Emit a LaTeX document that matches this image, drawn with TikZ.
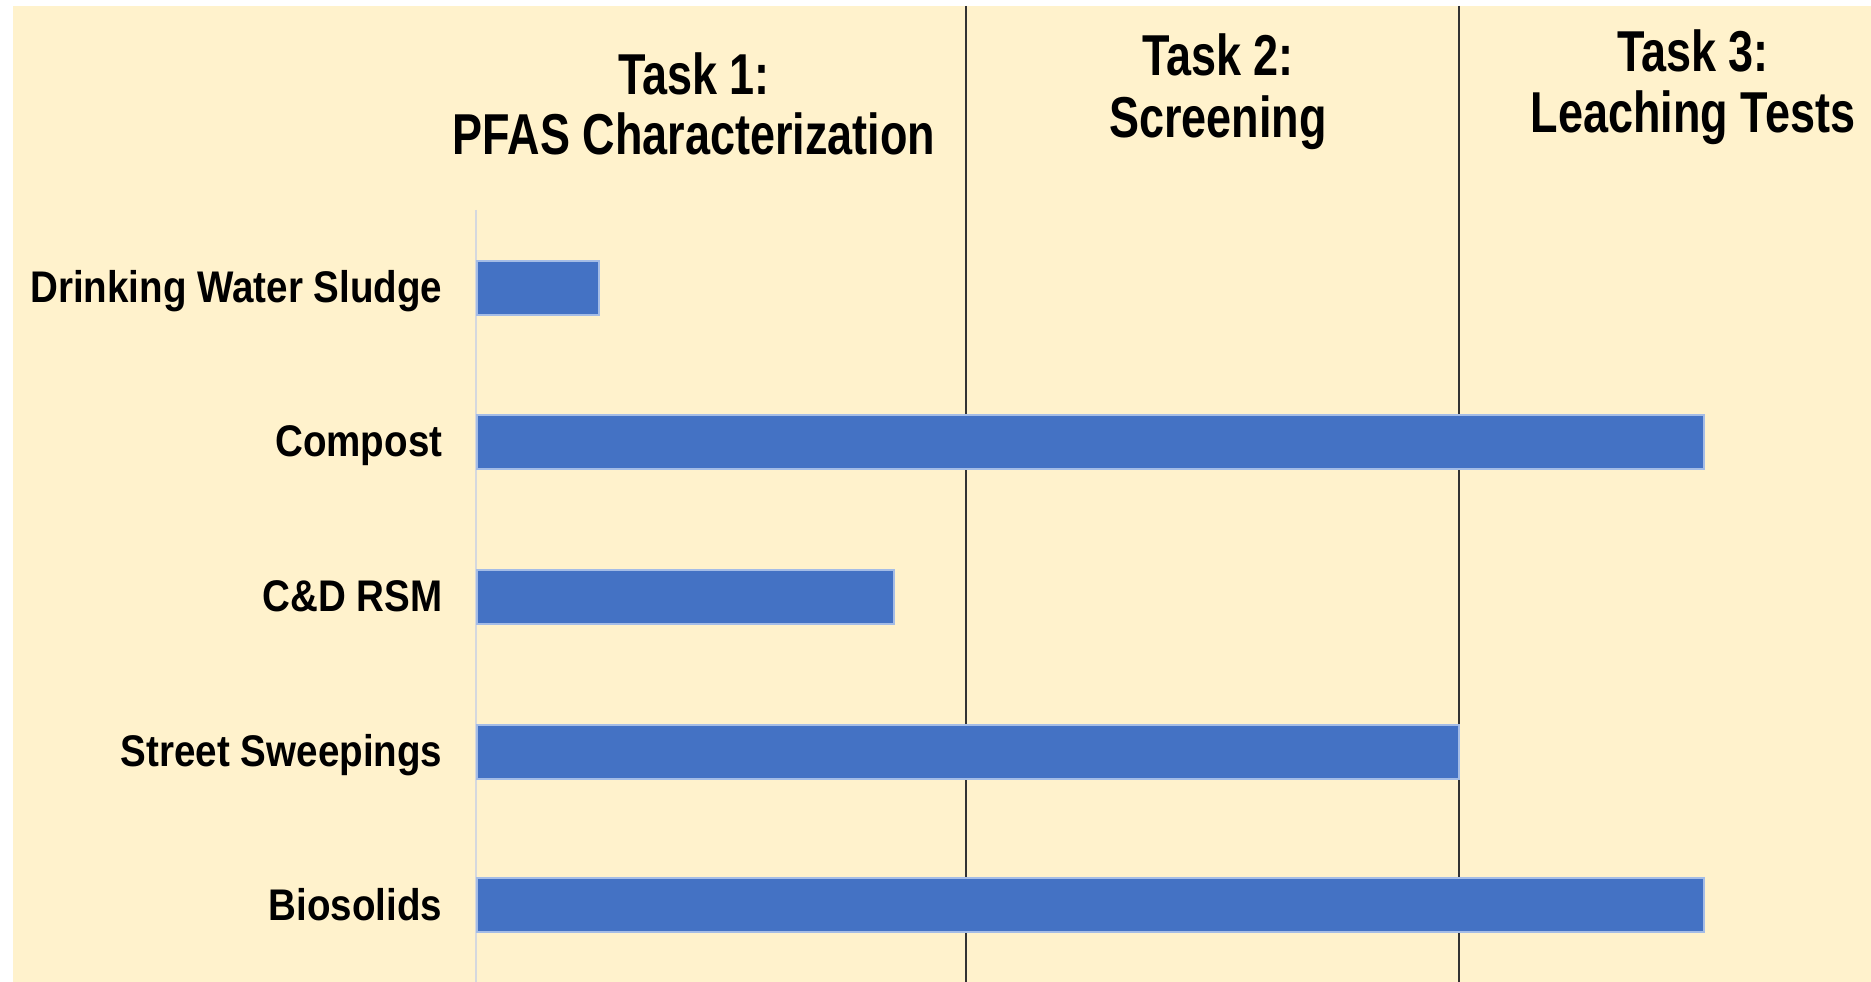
\documentclass[tikz,border=0pt]{standalone}
\usepackage{fontspec}
\newfontfamily\headfont[FakeStretch=0.78]{Liberation Sans}
\newfontfamily\rowfont[FakeStretch=0.87]{Liberation Sans}

\definecolor{Paper}{HTML}{FFF2CC}
\definecolor{Bar}{HTML}{4472C4}
\definecolor{BarEdge}{HTML}{A4BCE6}
\definecolor{Axis}{HTML}{D5D8DE}
\definecolor{Divider}{HTML}{333333}

\tikzset{
  head/.style={anchor=base, inner sep=0pt, font=\headfont\bfseries\fontsize{16.4}{19}\selectfont},
  row/.style={anchor=base east, inner sep=0pt, font=\rowfont\bfseries\fontsize{12.6}{15}\selectfont},
  bar/.style={fill=Bar, draw=BarEdge, line width=0.3pt},
}

\begin{document}
\begin{tikzpicture}[x=0.01cm, y=-0.01cm]

 \useasboundingbox (0,0) rectangle (1871,982);
 \fill [Paper] (13,6) rectangle (1871,982);

%%%%%%%%%% Points pour travailler %%%%%%%%%%

 \coordinate (axtop) at (476,210) ;
 \coordinate (axbot) at (476,982) ;
 \coordinate (d1top) at (966,6) ;
 \coordinate (d1bot) at (966,982) ;
 \coordinate (d2top) at (1459,6) ;
 \coordinate (d2bot) at (1459,982) ;

 % axis and task dividers
 \draw [Axis, line width=0.6pt] (axtop) -- (axbot) ;
 \draw [Divider, line width=0.65pt] (d1top) -- (d1bot) ;
 \draw [Divider, line width=0.65pt] (d2top) -- (d2bot) ;

 %%%%%%%%%%% Task headers %%%%%%%%%%%
 \node [head] (t1a) at (694,95) {Task 1:} ;
 \node [head] (t1b) at (694,155) {PFAS Characterization} ;
 \node [head] (t2a) at (1218,76) {Task 2:} ;
 \node [head] (t2b) at (1218,138) {Screening} ;
 \node [head] (t3a) at (1693,72) {Task 3:} ;
 \node [head] (t3b) at (1693,133) {Leaching Tests} ;

 %%%%%%%%%%% Materials and bars %%%%%%%%%%%
 \foreach \name/\txt/\yc/\xe in {dws/Drinking Water Sludge/288/599,
                                  comp/Compost/442/1704,
                                  cd/C\&D RSM/597/894,
                                  sweep/Street Sweepings/752/1459,
                                  bio/Biosolids/905/1704}
 {
  \fill [bar] (477,\yc-27) rectangle (\xe,\yc+27) ;
  \node [row] (lab\name) at (443,\yc+15) {\txt} ;
 }

\end{tikzpicture}
\end{document}
